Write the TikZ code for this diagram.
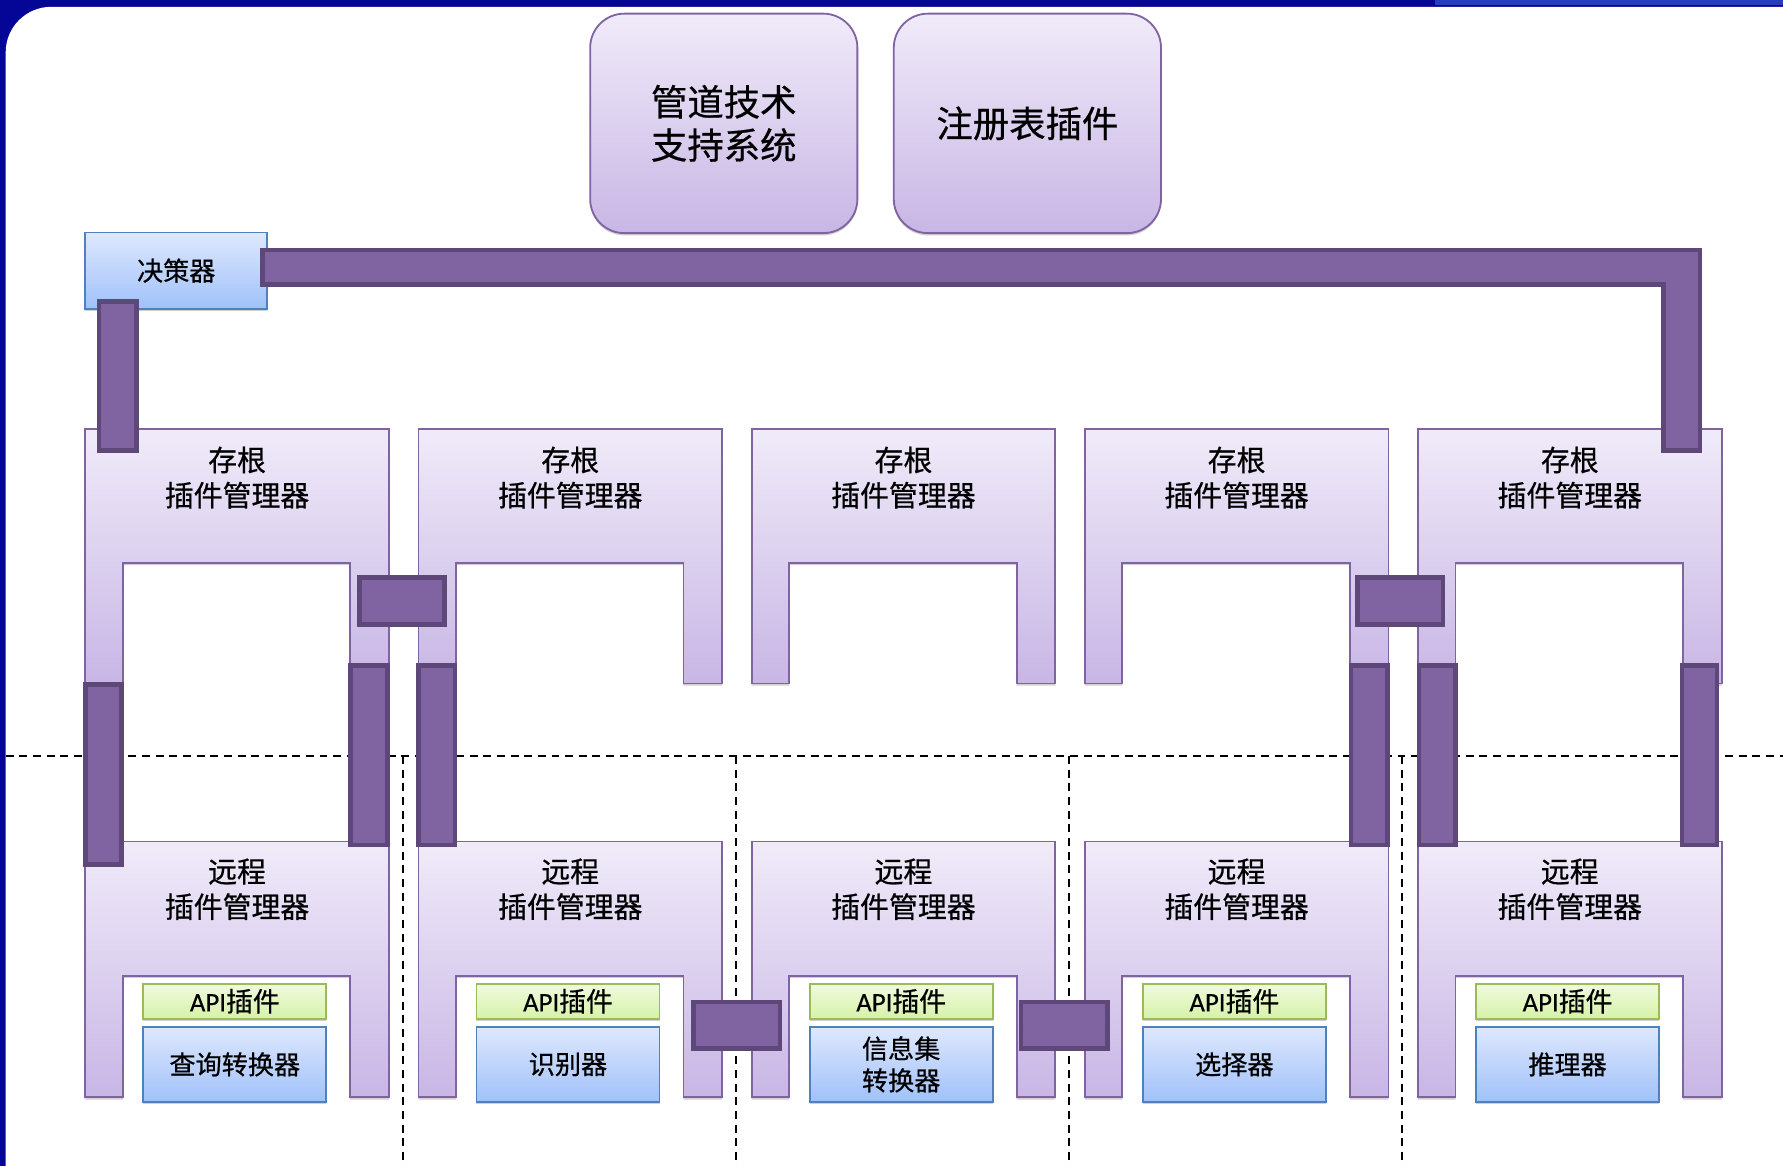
\documentclass[tikz,border=0pt]{standalone}
\usepackage{fontspec}
\setmainfont{Noto Sans CJK SC}[FakeBold=0.6]
\newfontfamily\latfont{Carlito}[FakeBold=0.4]
\usetikzlibrary{shadows}
\definecolor{frame}{RGB}{6,6,150}
\definecolor{framehi}{RGB}{40,60,190}
\definecolor{barfill}{RGB}{128,100,162}
\definecolor{barline}{RGB}{94,72,122}
\definecolor{mgrline}{RGB}{128,100,162}
\definecolor{mgrtop}{RGB}{240,235,249}
\definecolor{mgrbot}{RGB}{200,182,229}
\definecolor{blueline}{RGB}{79,129,189}
\definecolor{bluetop}{RGB}{222,232,253}
\definecolor{bluebot}{RGB}{160,193,250}
\definecolor{greenline}{RGB}{155,187,89}
\definecolor{greentop}{RGB}{240,250,222}
\definecolor{greenbot}{RGB}{214,242,168}
\tikzset{
BAR/.style={fill=barfill, draw=barline, line width=2pt, line join=miter},
SHADE/.style={drop shadow={shadow xshift=0pt, shadow yshift=-1pt, fill=black!30, opacity=0.6}},
MGR/.style={draw=mgrline, line width=0.8pt, top color=mgrtop, bottom color=mgrbot, SHADE},
TOPBOX/.style={MGR, rounded corners=15pt, minimum width=117.5pt, minimum height=96.5pt, align=center, font=\fontsize{16pt}{19pt}\selectfont},
BLUEBOX/.style={draw=blueline, line width=0.8pt, top color=bluetop, bottom color=bluebot, SHADE, align=center},
APIBOX/.style={draw=greenline, line width=0.8pt, top color=greentop, bottom color=greenbot, SHADE, minimum width=80.5pt, minimum height=15.5pt, inner sep=0pt, font=\fontsize{11.8pt}{14pt}\selectfont},
MTXT/.style={align=center, inner sep=0pt, font=\fontsize{12.7pt}{15.5pt}\selectfont},
DASH/.style={dash pattern=on 3.5pt off 2.5pt, line width=0.85pt},
}
\begin{document}
\begin{tikzpicture}[x=0.5pt, y=-0.5pt] % plug-in managers
	\useasboundingbox (0,0) rectangle (1568,1025);
	\fill[frame] (0,0) rectangle (1568,1025);
	\fill[framehi] (1262,0) rectangle (1568,4);
	\fill[white, rounded corners=20pt] (5,6) rectangle (1620,1080);
	\draw[DASH] (5,665) -- (1568,665);
	\foreach \i in {0,...,3}
		\draw[DASH] (354+293*\i,665) -- (354+293*\i,1025);
	\node[TOPBOX] (pipe) at (636.5,108.5) {管道技术\\支持系统};
	\node[TOPBOX] (reg) at (903.5,108.5) {注册表插件};
	\node[BLUEBOX, minimum width=80pt, minimum height=33.5pt, font=\fontsize{11.5pt}{14pt}\selectfont] (dec) at (155,238) {决策器};
\foreach \i/\fn in {0/查询转换器,1/识别器,2/{信息集\\转换器},3/选择器,4/推理器}{
\begin{scope}[xshift=\i*146.5pt]
	\path[MGR] (75,377) -- (342,377) -- (342,601) -- (308,601) -- (308,495) -- (108,495) -- (108,601) -- (75,601) -- cycle;
	\path[MGR] (75,740) -- (342,740) -- (342,965) -- (308,965) -- (308,858) -- (108,858) -- (108,965) -- (75,965) -- cycle;
	\node[MTXT] (stub\i) at (208.5,420) {存根\\插件管理器};
	\node[MTXT] (rem\i) at (208.5,782) {远程\\插件管理器};
	\node[APIBOX] (api\i) at (206.5,880.5) {{\latfont API}插件};
	\node[BLUEBOX, minimum width=80.5pt, minimum height=33pt, inner sep=0pt, font=\fontsize{11.5pt}{14pt}\selectfont] (fn\i) at (206.5,936) {\fn};
\end{scope}
}
	\path[BAR] (231,220) -- (1495,220) -- (1495,396) -- (1463,396) -- (1463,250) -- (231,250) -- cycle;
	\path[BAR] (87,265) rectangle (120,396);
	\path[BAR] (316,508) rectangle (391,549);
	\path[BAR] (1194,508) rectangle (1269,549);
	\path[BAR] (75,602) rectangle (107,760);
	\path[BAR] (308,585) rectangle (341,743);
	\path[BAR] (368,585) rectangle (400,743);
	\path[BAR] (1188,585) rectangle (1220,743);
	\path[BAR] (1248,585) rectangle (1280,743);
	\path[BAR] (1479,585) rectangle (1510,743);
	\path[BAR] (610,881) rectangle (686,922);
	\path[BAR] (898,881) rectangle (974,922);
\end{tikzpicture}
\end{document}
